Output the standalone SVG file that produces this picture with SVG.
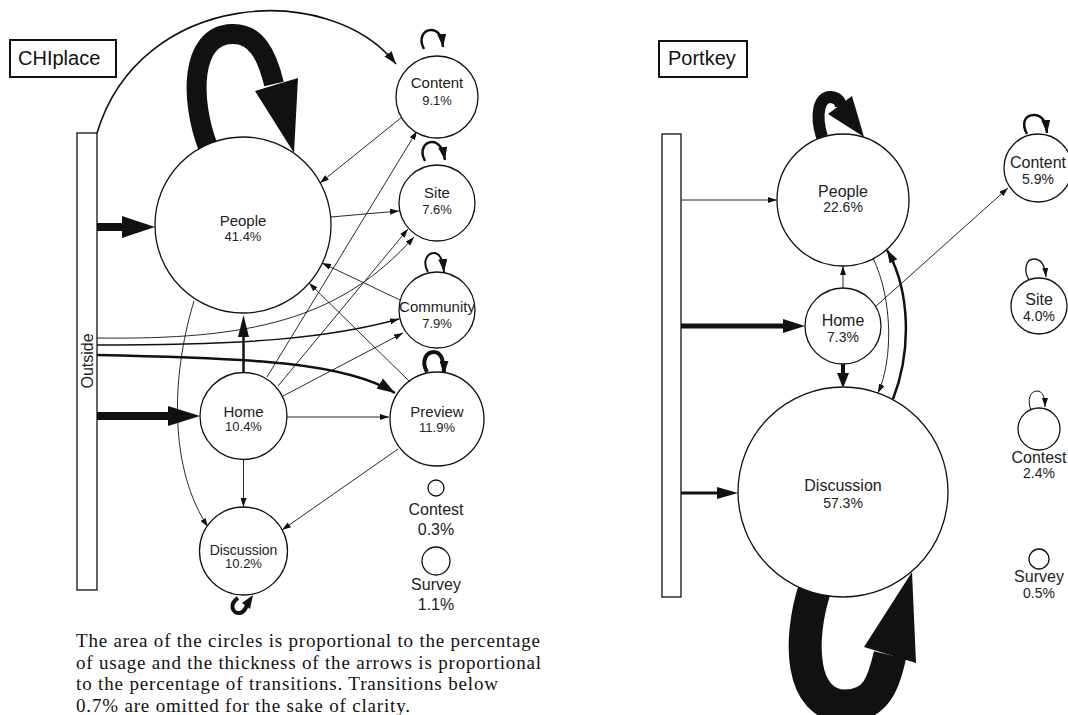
<svg xmlns="http://www.w3.org/2000/svg" width="1068" height="715" viewBox="0 0 1068 715">
<style>
.n{fill:#fff;stroke:#111;stroke-width:1.3}
.t{font-family:"Liberation Sans",Arial,sans-serif;fill:#222;text-anchor:middle}
.nm{font-size:15px}
.pc{font-size:13px}
.nm2{font-size:16px}
.pc2{font-size:14px}
.big{font-size:16px}
.e{fill:none;stroke:#111;stroke-width:0.9}
.k{fill:#111;stroke:none}
.title{font-family:"Liberation Sans",Arial,sans-serif;font-size:20px;fill:#111}
.cap{font-family:"Liberation Serif","Times New Roman",serif;font-size:19px;fill:#111}
</style>
<defs>
<marker id="a" markerUnits="userSpaceOnUse" markerWidth="9" markerHeight="6" refX="9" refY="3" orient="auto"><path d="M0,0 L9,3 L0,6 z" fill="#111"/></marker>
<marker id="am" markerUnits="userSpaceOnUse" markerWidth="13" markerHeight="9" refX="13" refY="4.5" orient="auto"><path d="M0,0 L13,4.5 L0,9 z" fill="#111"/></marker>
<marker id="al" markerUnits="userSpaceOnUse" markerWidth="18" markerHeight="12" refX="18" refY="6" orient="auto"><path d="M0,0 L18,6 L0,12 z" fill="#111"/></marker>
</defs>

<!-- ===== CHIplace ===== -->
<g id="chiplace-title"><rect x="10" y="40" width="106" height="37" fill="#fff" stroke="#111" stroke-width="2"/><text class="title" x="18" y="65">CHIplace</text></g>

<g id="connectors-left">
<path class="e" d="M97 133 C140 -10 330 -20 396 64" style="stroke-width:1.6" marker-end="url(#am)"/>
<path d="M208 147 C190 100 190 35 232 34 C256 33 267 55 274 84" fill="none" stroke="#111" stroke-width="20"/>
<polygon class="k" points="255,91 298,78 294,153"/>
<line x1="97" y1="227" x2="125" y2="227" stroke="#111" stroke-width="8"/>
<polygon class="k" points="122,216 155,227 122,238"/>
<line x1="97" y1="416" x2="172" y2="416" stroke="#111" stroke-width="8"/>
<polygon class="k" points="168,406 200,416 168,426"/>
<line x1="243.5" y1="372" x2="243.5" y2="335" stroke="#111" stroke-width="2.5"/>
<polygon class="k" points="238,337 243.5,315 249,337"/>
<line class="e" x1="243.5" y1="460" x2="243.5" y2="507" marker-end="url(#a)"/>
<line class="e" x1="402" y1="117" x2="320" y2="183" marker-end="url(#a)"/>
<line class="e" x1="331" y1="217" x2="399" y2="211" marker-end="url(#a)"/>
<line class="e" x1="267" y1="377" x2="417" y2="131" marker-end="url(#a)"/>
<line class="e" x1="278" y1="386" x2="408" y2="229" marker-end="url(#a)"/>
<path class="e" d="M97 338 C250 340 340 320 414 237" marker-end="url(#a)"/>
<path class="e" d="M97 345 C250 345 330 338 399 319" style="stroke-width:1.5" marker-end="url(#a)"/>
<path class="e" d="M97 355 C250 358 345 362 395 393" style="stroke-width:2.5" marker-end="url(#al)"/>
<line class="e" x1="283" y1="396" x2="403" y2="333" marker-end="url(#a)"/>
<line class="e" x1="287" y1="417" x2="389" y2="417" marker-end="url(#a)"/>
<line class="e" x1="400" y1="300" x2="322" y2="263" marker-end="url(#a)"/>
<line class="e" x1="409" y1="381" x2="309" y2="283" marker-end="url(#a)"/>
<path class="e" d="M194 301 C170 380 170 470 208 527" marker-end="url(#a)"/>
<line class="e" x1="398" y1="449" x2="282" y2="530" marker-end="url(#a)"/>
<path class="e" d="M424 49 C418 38 424 30 431 30 C438 30 442 37 443 47" style="stroke-width:2.5" marker-end="url(#am)"/>
<path class="e" d="M425 161 C419 150 425 142 432 142 C439 142 443 149 445 160" style="stroke-width:2.5" marker-end="url(#am)"/>
<path class="e" d="M428 272 C422 262 427 253 434 253 C440 253 443 261 444 272" style="stroke-width:2" marker-end="url(#am)"/>
<path class="e" d="M427 372 C421 361 426 352 434 352 C441 352 444 361 444 374" style="stroke-width:4" marker-end="url(#am)"/>
<path class="e" d="M238 598 C229 604 232 614 240 613 C244 612 246 608 247 605" style="stroke-width:4"/>
<polygon class="k" points="242,603 253,595 250,609"/>
</g>

<g id="outside-left"><rect x="77" y="133" width="20" height="457" class="n"/><text class="t big" transform="translate(93,361) rotate(-90)">Outside</text></g>
<g id="people-left"><circle cx="243" cy="225" r="88" class="n"/><text class="t nm" x="243" y="226">People</text><text class="t pc" x="243" y="241">41.4%</text></g>
<g id="content-left"><circle cx="437" cy="97" r="41" class="n"/><text class="t nm" x="437" y="88">Content</text><text class="t pc" x="437" y="105">9.1%</text></g>
<g id="site-left"><circle cx="437" cy="203" r="38" class="n"/><text class="t nm" x="437" y="198">Site</text><text class="t pc" x="437" y="214">7.6%</text></g>
<g id="community-left"><circle cx="437" cy="310" r="38" class="n"/><text class="t nm" x="437" y="312">Community</text><text class="t pc" x="437" y="328">7.9%</text></g>
<g id="preview-left"><circle cx="437" cy="419" r="47" class="n"/><text class="t nm" x="437" y="417">Preview</text><text class="t pc" x="437" y="432">11.9%</text></g>
<g id="home-left"><circle cx="243.5" cy="416" r="43.5" class="n"/><text class="t nm" x="243.5" y="417">Home</text><text class="t pc" x="243.5" y="431">10.4%</text></g>
<g id="discussion-left"><circle cx="243.5" cy="551" r="44" class="n"/><text class="t" style="font-size:14px" x="243.5" y="555">Discussion</text><text class="t pc" x="243.5" y="568">10.2%</text></g>
<g id="contest-left"><circle cx="436" cy="488" r="8" class="n"/><text class="t big" x="436" y="515">Contest</text><text class="t big" x="436" y="535">0.3%</text></g>
<g id="survey-left"><circle cx="436" cy="561" r="14" class="n"/><text class="t big" x="436" y="590">Survey</text><text class="t big" x="436" y="610">1.1%</text></g>

<g id="caption">
<text class="cap" x="76" y="647" textLength="464" lengthAdjust="spacing">The area of the circles is proportional to the percentage</text>
<text class="cap" x="76" y="668.5" textLength="465" lengthAdjust="spacing">of usage and the thickness of the arrows is proportional</text>
<text class="cap" x="76" y="690" textLength="422" lengthAdjust="spacing">to the percentage of transitions. Transitions below</text>
<text class="cap" x="76" y="711.5" textLength="334" lengthAdjust="spacing">0.7% are omitted for the sake of clarity.</text>
</g>

<!-- ===== Portkey ===== -->
<g id="portkey-title"><rect x="659" y="41" width="88" height="36" fill="#fff" stroke="#111" stroke-width="2"/><text class="title" x="668" y="65">Portkey</text></g>

<g id="connectors-right">
<path d="M822 137 C815 115 819 96 831 97 C839 98 841 103 841 107" fill="none" stroke="#111" stroke-width="12"/>
<polygon class="k" points="828,114 852,96 864,137"/>
<path d="M815 588 C798 640 800 706 845 706 C878 706 884 680 890 655" fill="none" stroke="#111" stroke-width="33"/>
<polygon class="k" points="864,647 916,663 912,572"/>
<line class="e" x1="681" y1="200" x2="777" y2="200" marker-end="url(#a)"/>
<line x1="681" y1="326" x2="786" y2="326" stroke="#111" stroke-width="5"/>
<polygon class="k" points="783,319 805,326 783,333"/>
<line x1="681" y1="493" x2="720" y2="493" stroke="#111" stroke-width="3"/>
<polygon class="k" points="717,487 738,493 717,499"/>
<line class="e" x1="843" y1="289" x2="843" y2="266" marker-end="url(#a)"/>
<line x1="843" y1="364" x2="843" y2="375" stroke="#111" stroke-width="4"/>
<polygon class="k" points="837,373 843,388 849,373"/>
<line class="e" x1="875" y1="307" x2="1008" y2="188" marker-end="url(#a)"/>
<path class="e" d="M873 258 C893 300 893 360 878 393" marker-end="url(#a)"/>
<path class="e" d="M893 399 C912 350 910 290 887 250" style="stroke-width:2.5" marker-end="url(#am)"/>
<path class="e" d="M1027 134 C1021 123 1025 115 1034 115 C1042 115 1046 122 1047 133" style="stroke-width:2.5" marker-end="url(#am)"/>
<path class="e" d="M1029 280 C1023 270 1026 259 1034 259 C1041 259 1045 266 1046 277" style="stroke-width:1.3" marker-end="url(#a)"/>
<path class="e" d="M1031 410 C1027 400 1030 391 1037 391 C1043 391 1045 398 1045 407" style="stroke-width:1" marker-end="url(#a)"/>
</g>

<g id="outside-right"><rect x="662" y="134" width="19" height="463" class="n"/></g>
<g id="people-right"><circle cx="843" cy="200" r="66" class="n"/><text class="t nm2" x="843" y="197">People</text><text class="t pc2" x="843" y="212">22.6%</text></g>
<g id="content-right"><circle cx="1038" cy="168" r="34" class="n"/><text class="t nm2" x="1038" y="168">Content</text><text class="t pc2" x="1038" y="184">5.9%</text></g>
<g id="site-right"><circle cx="1039" cy="306" r="28" class="n"/><text class="t nm2" x="1039" y="305">Site</text><text class="t pc2" x="1039" y="321">4.0%</text></g>
<g id="home-right"><circle cx="843" cy="326" r="38" class="n"/><text class="t nm2" x="843" y="326">Home</text><text class="t pc2" x="843" y="342">7.3%</text></g>
<g id="discussion-right"><circle cx="843" cy="492" r="105" class="n"/><text class="t nm2" x="843" y="491">Discussion</text><text class="t pc2" x="843" y="508">57.3%</text></g>
<g id="contest-right"><circle cx="1039" cy="429" r="21" class="n"/><text class="t nm2" x="1039" y="463">Contest</text><text class="t pc2" x="1039" y="478">2.4%</text></g>
<g id="survey-right"><circle cx="1039" cy="559" r="10" class="n"/><text class="t nm2" x="1039" y="582">Survey</text><text class="t pc2" x="1039" y="598">0.5%</text></g>
</svg>
